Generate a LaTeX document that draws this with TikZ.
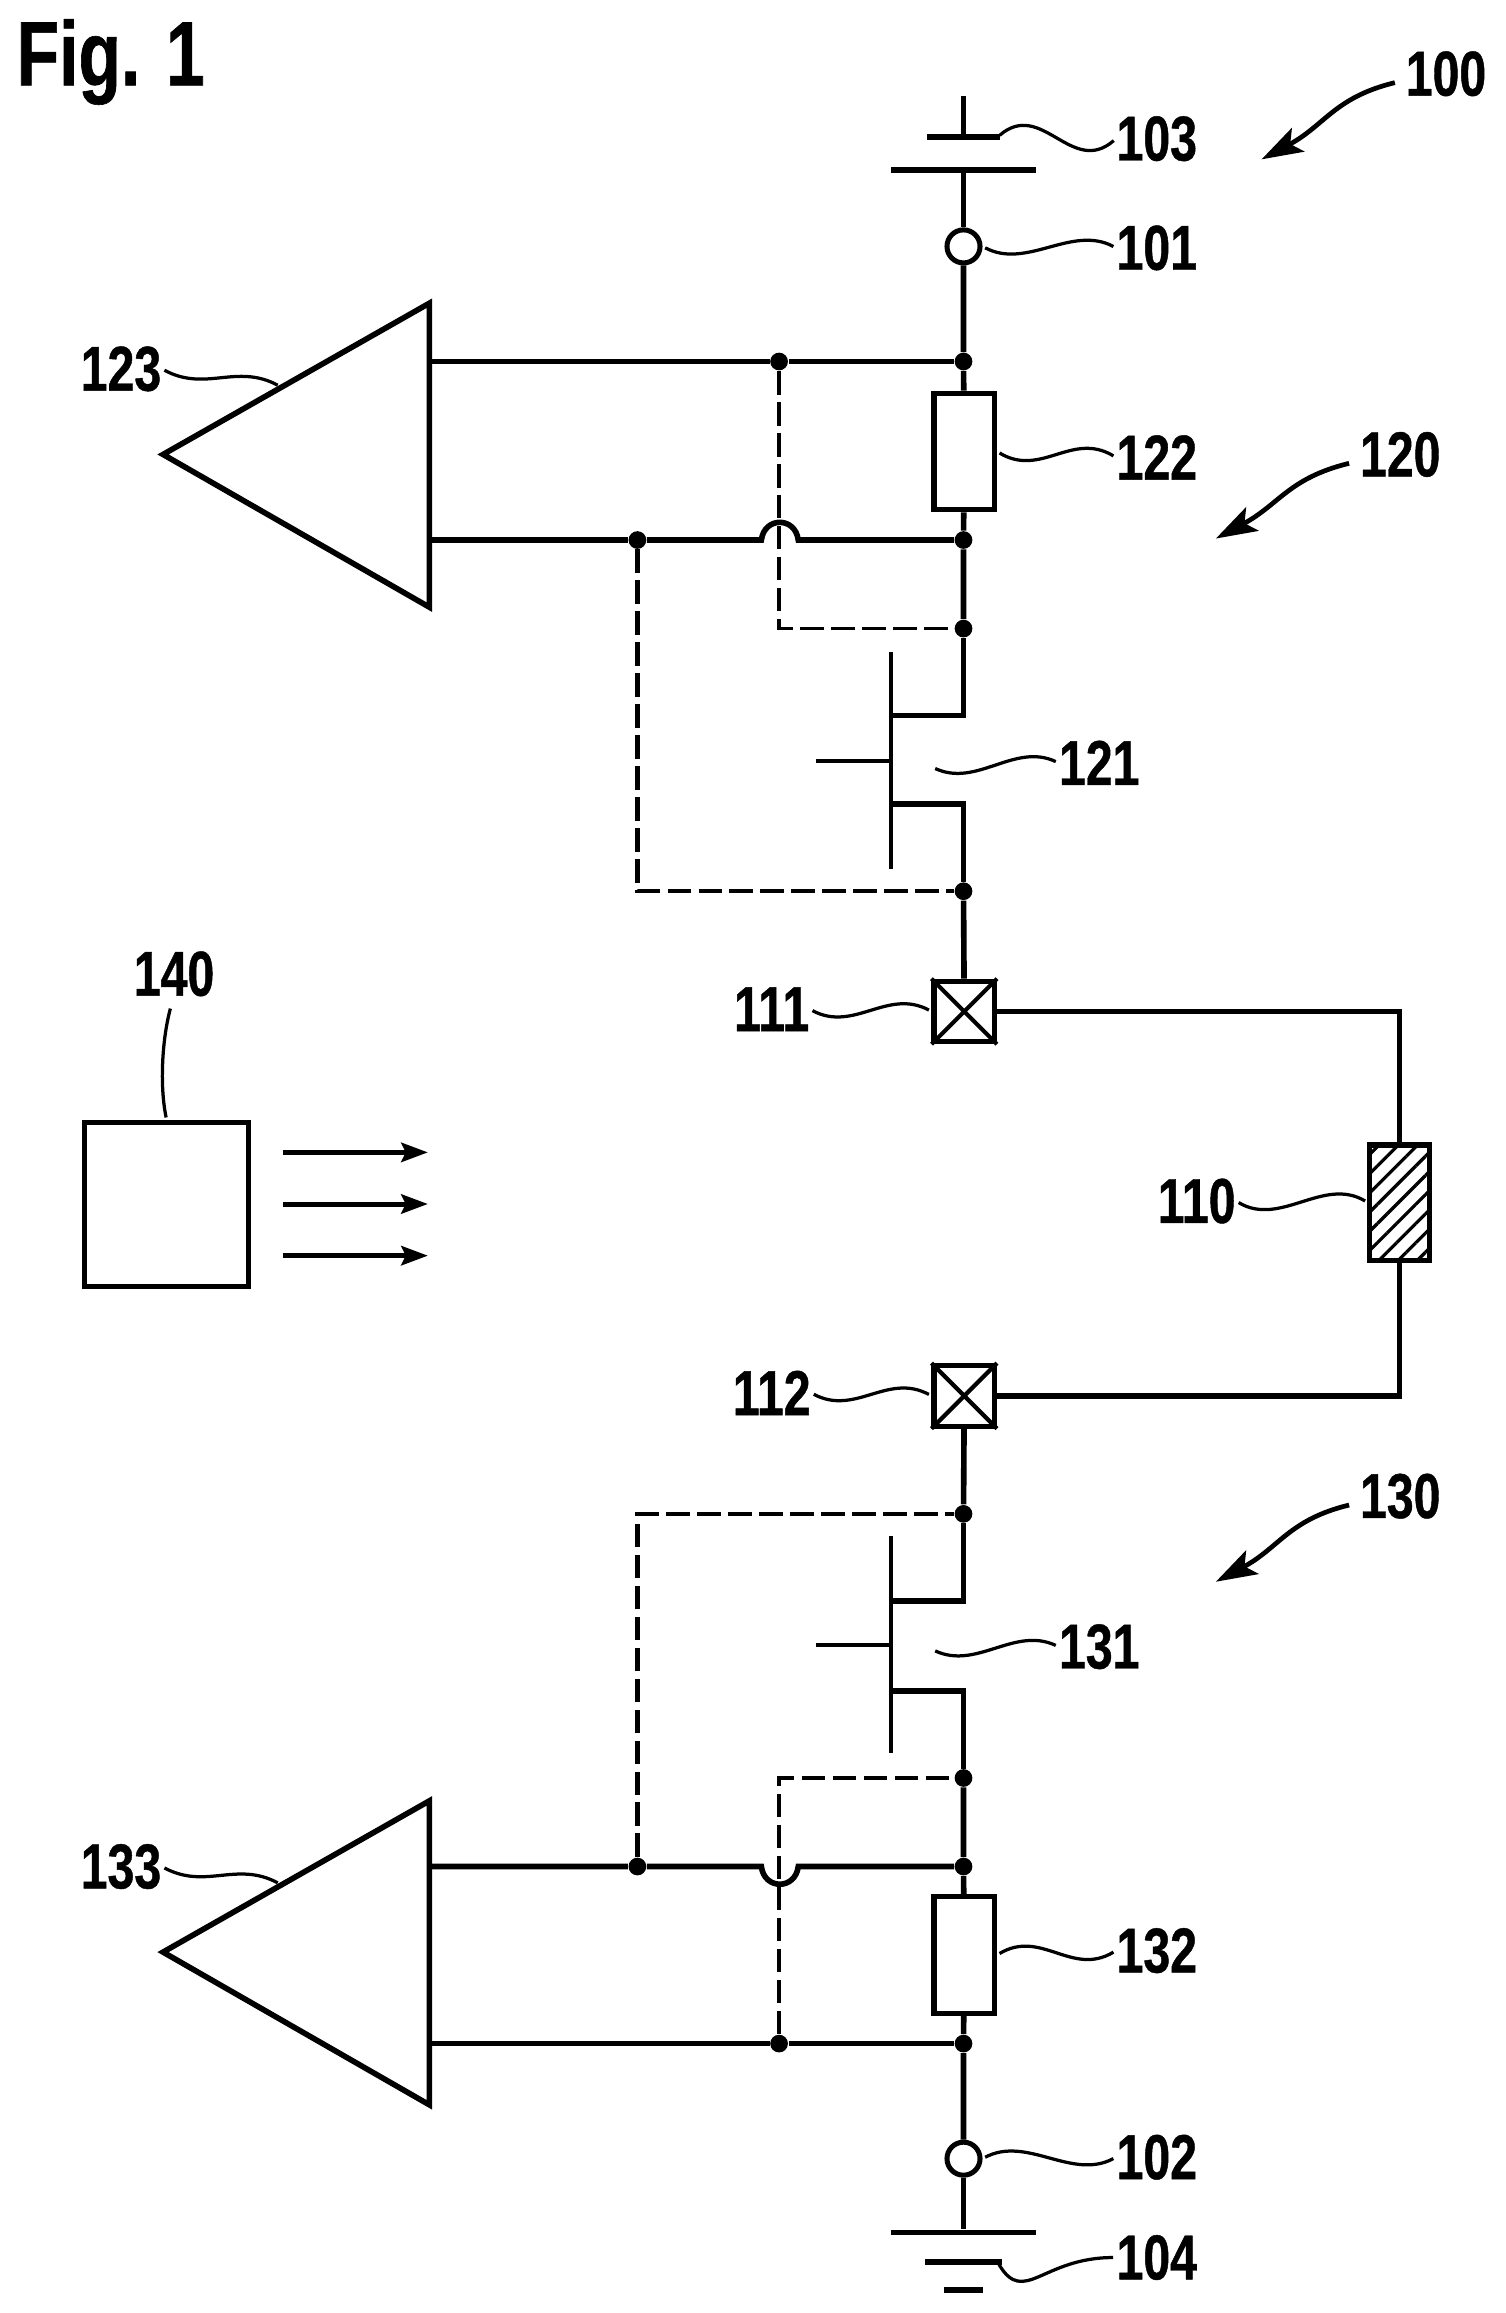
\documentclass[tikz,border=0pt]{standalone}
\usepackage{fontspec}
\setmainfont{Liberation Sans}[FakeStretch=0.76, BoldFeatures={FakeBold=0.7}]
\usetikzlibrary{arrows.meta,patterns.meta}

\begin{document}
\begin{tikzpicture}[x=0.5pt, y=-0.5pt, line join=miter,
    wire/.style={line width=1.9pt},
    thin wire/.style={line width=1.4pt},
    dash wire/.style={line width=1.55pt, dash pattern=on 8pt off 2.5pt},
    dash fine/.style={line width=1.25pt, dash pattern=on 8pt off 2.5pt},
    leader/.style={line width=1.1pt, shorten >=1pt, shorten <=1pt},
    pointer/.style={line width=1.6pt, -{Stealth[length=14pt,width=9pt,inset=3pt]}},
    ray/.style={line width=1.7pt, -{Stealth[length=9pt,width=6.5pt,inset=1.5pt]}},
    dot/.style={circle, fill=black, inner sep=0pt, minimum size=6pt},
    terminal/.style={circle, draw, line width=1.7pt, fill=white, inner sep=0pt, minimum size=11.2pt},
    plate/.style={rectangle, fill=black, inner sep=0pt, minimum height=2pt},
    resbox/.style={rectangle, draw, line width=1.7pt, fill=white, inner sep=0pt, minimum width=20.5pt, minimum height=39.5pt},
    padbox/.style={rectangle, draw, line width=1.7pt, fill=white, inner sep=0pt, minimum width=20.5pt, minimum height=20.5pt},
    num/.style={inner sep=0pt, font=\bfseries\fontsize{21.5}{22}\selectfont}]
    \fill[white] (0,0) rectangle (1020,1567.6);
    \useasboundingbox (0,0) rectangle (1020,1567.6);

    \node[num, font=\bfseries\fontsize{31}{33}\selectfont] (fig) at (75,42) {Fig. 1};

    % elements on the rail
    \coordinate (top) at (653,65);
    \node[plate, minimum width=25pt] (p103a) at (653,93) {};
    \node[plate, minimum width=49pt] (p103b) at (653,115) {};
    \node[terminal] (c101) at (653,167) {};
    \node[dot] (j1) at (653,245) {};
    \node[resbox] (r122) at (653.5,306) {};
    \node[dot] (j2) at (653,366) {};
    \node[dot] (j3) at (653,426) {};
    \node[dot] (j4) at (653,604) {};
    \node[padbox] (b111) at (653.5,685.5) {};
    \node[padbox] (b112) at (653.5,946) {};
    \node[dot] (j5) at (653,1026) {};
    \node[dot] (j6) at (653,1205) {};
    \node[dot] (j7) at (653,1265) {};
    \node[resbox] (r132) at (653.5,1325) {};
    \node[dot] (j8) at (653,1385) {};
    \node[terminal] (c102) at (653,1463) {};
    \node[plate, minimum width=49pt] (p104a) at (653,1513) {};
    \node[plate, minimum width=26pt] (p104b) at (653,1533) {};
    \node[plate, minimum width=13.5pt] (p104c) at (653,1552) {};

    \draw[wire] (top) -- (p103a);
    \draw[wire] (p103b) -- (c101);
    \draw[wire] (c101) -- (j1) -- (r122);
    \draw[wire] (r122) -- (j2) -- (j3);
    \draw[wire] (j4) -- (b111);
    \draw[wire] (b112) -- (j5);
    \draw[wire] (j6) -- (j7) -- (r132);
    \draw[wire] (r132) -- (j8) -- (c102);
    \draw[wire] (c102) -- (p104a);
    \foreach \b in {b111, b112} {
        \draw[thin wire] (\b.north west) -- (\b.south east);
        \draw[thin wire] (\b.south west) -- (\b.north east);
    }

    % transistors
    \foreach \n/\d/\g/\s/\gt/\gb/\up/\dn in {121/485/516/545/442/589/j3/j4, 131/1085/1115/1146/1041/1188/j5/j6} {
        \coordinate (bar\n a) at (604,\gt);
        \coordinate (bar\n b) at (604,\gb);
        \coordinate (gate\n) at (553,\g);
        \coordinate (pin\n) at (604,\g);
        \coordinate (dr\n) at (604,\d);
        \coordinate (so\n) at (604,\s);
        \draw[thin wire] (bar\n a) -- (bar\n b);
        \draw[thin wire] (gate\n) -- (pin\n);
        \draw[wire] (\up) |- (dr\n);
        \draw[wire] (\dn) |- (so\n);
    }

    % sensor
    \node[rectangle, draw, line width=1.7pt, inner sep=0pt, minimum width=20.5pt, minimum height=39pt,
        pattern={Lines[angle=45,distance=4.6pt,line width=1.1pt]}] (r110) at (948.5,815) {};
    \draw[wire] (b111) -| (r110);
    \draw[wire] (b112) -| (r110);

    % amplifiers
    \foreach \n/\y/\t/\b in {123/308/245/366, 133/1323/1265/1385} {
        \coordinate (a\n) at (110.5,\y);
        \coordinate (a\n t) at (291,\y-102.5);
        \coordinate (a\n b) at (291,\y+103.5);
        \coordinate (a\n p) at (291,\t);
        \coordinate (a\n m) at (291,\b);
        \draw[wire] (a\n) -- (a\n t) -- (a\n b) -- cycle;
    }

    \node[dot] (d1) at (528,245) {};
    \node[dot] (d2) at (432,366) {};
    \node[dot] (d3) at (432,1265) {};
    \node[dot] (d4) at (528,1385) {};
    \coordinate (h1a) at (516,366);
    \coordinate (h1b) at (541,366);
    \coordinate (h2a) at (516,1265);
    \coordinate (h2b) at (541,1265);

    \draw[wire] (a123p) -- (d1) -- (j1);
    \draw[wire] (a123m) -- (d2) -- (h1a) .. controls +(2,-16) and +(-2,-16) .. (h1b) -- (j2);
    \draw[wire] (a133p) -- (d3) -- (h2a) .. controls +(2,16) and +(-2,16) .. (h2b) -- (j7);
    \draw[wire] (a133m) -- (d4) -- (j8);

    \draw[dash fine] (d1) |- (j3);
    \draw[dash wire] (d2) |- (j4);
    \draw[dash wire] (d3) |- (j5);
    \draw[dash fine] (d4) |- (j6);

    % light source
    \node[rectangle, draw, line width=1.7pt, inner sep=0pt, minimum size=55.5pt] (b140) at (113,816.5) {};
    \foreach \y in {781, 816, 851} {
        \coordinate (ray\y a) at (192,\y);
        \coordinate (ray\y b) at (290,\y);
        \draw[ray] (ray\y a) -- (ray\y b);
    }

    % numbers
    \foreach \t/\x/\y in {103/784/94, 101/784/168, 100/980/50, 120/949/308, 122/784/310,
        121/745/517, 111/523/684, 110/811/814, 112/523/944, 130/949/1014, 131/745/1116,
        123/82/250, 133/82/1265, 132/784/1322, 102/784/1462, 104/784/1530, 140/118/660}
        \node[num] (l\t) at (\x,\y) {\t};

    % leader lines
    \coordinate (e103) at (676,93);
    \coordinate (e121) at (632,520);
    \coordinate (e131) at (632,1118);
    \coordinate (e104) at (676,1533);
    \coordinate (e123) at (190,262);
    \coordinate (e133) at (190,1277);
    \foreach \a/\b/\h in {e103/l103.west/-26, c101.east/l101.west/16, r122.east/l122.west/18,
        e121/l121.west/14, r132.east/l132.west/-18, e131/l131.west/14, c102.east/l102.west/-16,
        l111.east/b111.west/16, l112.east/b112.west/16, l110.east/r110.west/18, l123.east/e123/16, l133.east/e133/16}
        \draw[leader] (\a) .. controls +(30,\h) and +(-30,-\h) .. (\b);
    \draw[leader] (e104) .. controls +(18,30) and +(-50,0) .. (l104.west);
    \draw[leader] (l140.south) ++(-2,6) coordinate (s140) .. controls +(-6,22) and +(-5,-24) .. (b140.north);

    % group arrows
    \foreach \t/\x/\y in {100/855/108, 120/824/365, 130/824/1072} {
        \coordinate (tip\t) at (\x,\y);
        \draw[pointer] (l\t.west) ++(-7,6) coordinate (st\t) .. controls +(-41,10) and +(43,-23) .. (tip\t);
    }
\end{tikzpicture}
\end{document}
